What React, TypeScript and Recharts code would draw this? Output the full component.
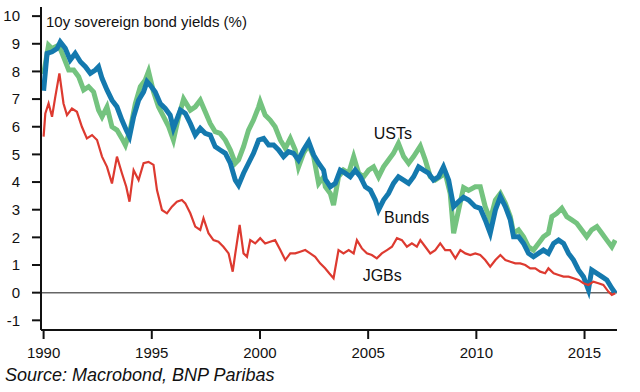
import React from "react";
import { LineChart, Line, XAxis, YAxis, ReferenceLine, ReferenceDot } from "recharts";

// yields, in % (time as decimal year)
const bundYears = [
  1990.0, 1990.16, 1990.39, 1990.62, 1990.77, 1991.0, 1991.23, 1991.46, 1991.7, 1991.93,
  1992.16, 1992.39, 1992.54, 1992.7, 1992.93, 1993.16, 1993.39, 1993.62, 1993.82, 1993.97,
  1994.16, 1994.39, 1994.62, 1994.78, 1994.93, 1995.16, 1995.39, 1995.62, 1995.85, 1996.0,
  1996.32, 1996.55, 1996.78, 1997.01, 1997.24, 1997.47, 1997.7, 1997.93, 1998.16, 1998.4,
  1998.63, 1998.86, 1999.01, 1999.24, 1999.47, 1999.7, 1999.94, 2000.17, 2000.4, 2000.63,
  2000.86, 2001.09, 2001.32, 2001.55, 2001.78, 2002.01, 2002.25, 2002.48, 2002.71, 2002.94,
  2003.02, 2003.25, 2003.48, 2003.71, 2003.94, 2004.17, 2004.4, 2004.64, 2004.87, 2005.1,
  2005.33, 2005.48, 2005.71, 2005.94, 2006.17, 2006.4, 2006.64, 2006.87, 2007.1, 2007.33,
  2007.56, 2007.79, 2008.02, 2008.25, 2008.48, 2008.72, 2008.95, 2009.18, 2009.41, 2009.64,
  2009.95, 2010.18, 2010.41, 2010.64, 2010.88, 2011.11, 2011.34, 2011.57, 2011.72, 2011.95,
  2012.18, 2012.41, 2012.64, 2012.87, 2013.1, 2013.33, 2013.57, 2013.8, 2014.03, 2014.26,
  2014.49, 2014.72, 2014.95, 2015.18, 2015.33, 2015.57, 2015.8, 2016.03, 2016.26, 2016.42,
];
const bundYields = [
  7.3, 8.65, 8.71, 8.83, 9.07, 8.84, 8.41, 8.65, 8.35, 8.17,
  7.93, 8.05, 8.17, 7.75, 7.33, 6.96, 6.72, 6.24, 5.88, 5.64,
  6.36, 6.96, 7.26, 7.63, 7.5, 7.26, 6.84, 6.66, 6.42, 5.94,
  6.6, 6.48, 6.12, 5.7, 5.94, 5.76, 5.7, 5.28, 5.16, 5.04,
  4.68, 4.07, 3.89, 4.32, 4.68, 5.04, 5.52, 5.58, 5.34, 5.34,
  5.16, 4.92, 5.1, 5.04, 4.8, 5.16, 5.46, 4.98, 4.68, 4.43,
  4.1, 3.83, 3.95, 4.43, 4.32, 4.19, 4.43, 4.19, 3.83, 3.71,
  3.35, 2.99, 3.35, 3.59, 3.95, 4.19, 4.07, 3.95, 4.19, 4.55,
  4.43, 4.32, 4.07, 4.19, 4.55, 4.07, 3.11, 3.29, 3.45, 3.35,
  3.11, 3.05, 2.63, 2.15, 2.99, 3.47, 3.11, 2.63, 2.02, 2.02,
  1.78, 1.42, 1.3, 1.42, 1.54, 1.42, 1.78, 1.9, 1.78, 1.42,
  1.18, 0.82, 0.58, 0.1, 0.82, 0.7, 0.58, 0.46, 0.16, -0.02,
];

const ustYears = [
  1990.0, 1990.23, 1990.39, 1990.7, 1990.92, 1991.16, 1991.39, 1991.62, 1991.85, 1992.08,
  1992.31, 1992.54, 1992.7, 1992.93, 1993.16, 1993.39, 1993.62, 1993.78, 1994.0, 1994.24,
  1994.47, 1994.7, 1994.85, 1995.08, 1995.31, 1995.55, 1995.78, 1996.0, 1996.24, 1996.47,
  1996.78, 1997.01, 1997.24, 1997.47, 1997.7, 1997.93, 1998.16, 1998.4, 1998.63, 1998.86,
  1999.01, 1999.24, 1999.47, 1999.7, 1999.94, 2000.01, 2000.24, 2000.47, 2000.7, 2000.94,
  2001.17, 2001.4, 2001.63, 2001.78, 2002.01, 2002.25, 2002.48, 2002.71, 2002.94, 2003.02,
  2003.25, 2003.4, 2003.63, 2003.86, 2004.1, 2004.33, 2004.56, 2004.79, 2005.02, 2005.25,
  2005.48, 2005.71, 2005.94, 2006.17, 2006.4, 2006.64, 2006.87, 2007.1, 2007.41, 2007.64,
  2007.87, 2008.1, 2008.33, 2008.56, 2008.79, 2008.95, 2009.18, 2009.41, 2009.64, 2009.95,
  2010.18, 2010.41, 2010.64, 2010.88, 2011.11, 2011.34, 2011.57, 2011.72, 2011.95, 2012.18,
  2012.41, 2012.64, 2012.87, 2013.1, 2013.33, 2013.49, 2013.72, 2013.95, 2014.18, 2014.41,
  2014.64, 2014.87, 2015.1, 2015.33, 2015.57, 2015.8, 2016.03, 2016.26, 2016.42,
];
const ustYields = [
  7.9, 8.95, 8.83, 8.95, 8.53, 8.05, 8.05, 7.81, 7.33, 7.45,
  7.26, 6.6, 6.36, 6.72, 6.0, 5.88, 5.58, 5.34, 5.88, 6.84,
  7.45, 7.69, 8.0, 7.26, 6.72, 6.36, 6.0, 5.52, 6.36, 7.0,
  6.6, 6.72, 6.96, 6.54, 6.12, 5.82, 5.76, 5.52, 5.16, 4.68,
  4.8, 5.28, 5.88, 6.24, 6.72, 6.9, 6.42, 6.24, 6.0, 5.52,
  5.22, 5.58, 5.16, 4.55, 5.04, 5.34, 4.92, 3.95, 4.19, 3.83,
  3.59, 3.17, 4.19, 4.43, 4.32, 4.92, 4.32, 4.19, 4.43, 4.55,
  4.19, 4.55, 4.8, 5.04, 5.4, 4.92, 4.68, 4.92, 5.3, 4.8,
  4.19, 4.07, 4.19, 4.32, 3.59, 2.15, 2.99, 3.8, 3.7, 3.83,
  3.83, 3.11, 2.63, 3.35, 3.59, 3.23, 2.75, 2.15, 2.27, 2.02,
  1.66, 1.54, 1.78, 2.02, 2.15, 2.75, 2.87, 3.05, 2.75, 2.63,
  2.51, 2.27, 2.02, 2.27, 2.39, 2.15, 1.9, 1.66, 1.9,
];

const jgbYears = [
  1990.0, 1990.08, 1990.23, 1990.39, 1990.54, 1990.73, 1990.92, 1991.08, 1991.31, 1991.54,
  1991.77, 1992.0, 1992.24, 1992.47, 1992.7, 1992.93, 1993.16, 1993.39, 1993.62, 1993.82,
  1993.97, 1994.16, 1994.39, 1994.62, 1994.85, 1995.08, 1995.24, 1995.47, 1995.7, 1995.93,
  1996.16, 1996.39, 1996.55, 1996.78, 1997.01, 1997.24, 1997.39, 1997.62, 1997.85, 1998.08,
  1998.31, 1998.55, 1998.74, 1998.86, 1999.06, 1999.24, 1999.4, 1999.55, 1999.78, 2000.01,
  2000.24, 2000.47, 2000.7, 2000.94, 2001.17, 2001.4, 2001.63, 2001.86, 2002.09, 2002.32,
  2002.55, 2002.78, 2003.01, 2003.2, 2003.4, 2003.63, 2003.86, 2004.1, 2004.33, 2004.48,
  2004.71, 2004.94, 2005.17, 2005.4, 2005.63, 2005.87, 2006.1, 2006.33, 2006.56, 2006.79,
  2007.02, 2007.25, 2007.41, 2007.64, 2007.87, 2008.1, 2008.33, 2008.56, 2008.79, 2009.03,
  2009.26, 2009.49, 2009.72, 2009.95, 2010.18, 2010.41, 2010.64, 2010.88, 2011.11, 2011.34,
  2011.57, 2011.8, 2012.03, 2012.26, 2012.49, 2012.72, 2012.95, 2013.18, 2013.33, 2013.57,
  2013.8, 2014.03, 2014.26, 2014.49, 2014.72, 2014.95, 2015.18, 2015.41, 2015.64, 2015.87,
  2016.1, 2016.26, 2016.42,
];
const jgbYields = [
  5.64, 6.48, 6.84, 6.36, 7.08, 7.93, 6.84, 6.42, 6.66, 6.54,
  6.0, 5.58, 5.7, 5.52, 4.92, 4.55, 3.95, 4.92, 4.32, 3.83,
  3.29, 4.43, 4.07, 4.68, 4.73, 4.62, 3.71, 2.99, 2.87, 3.11,
  3.29, 3.35, 3.23, 2.87, 2.39, 2.27, 2.69, 2.15, 1.9, 1.84,
  1.66, 1.42, 0.76, 1.42, 2.45, 1.42, 1.3, 1.9, 1.78, 1.97,
  1.78, 1.84, 1.9, 1.54, 1.18, 1.42, 1.42, 1.48, 1.54, 1.42,
  1.3, 1.06, 0.88, 0.7, 0.52, 1.54, 1.42, 1.54, 1.42, 1.9,
  1.6, 1.42, 1.36, 1.24, 1.42, 1.54, 1.66, 1.97, 1.9, 1.66,
  1.78, 1.66, 1.9, 1.66, 1.42, 1.54, 1.78, 1.54, 1.54, 1.24,
  1.54, 1.42, 1.36, 1.42, 1.36, 1.18, 0.94, 1.18, 1.36, 1.18,
  1.12, 1.06, 1.06, 1.0, 0.88, 0.88, 0.76, 0.7, 0.88, 0.7,
  0.64, 0.58, 0.58, 0.52, 0.46, 0.34, 0.28, 0.4, 0.34, 0.28,
  0.04, -0.08, -0.02,
];

const yearTicks = [1990, 1995, 2000, 2005, 2010, 2015];
const yieldTicks = [-1, 0, 1, 2, 3, 4, 5, 6, 7, 8, 9, 10];

const toPoints = (ts: number[], vs: number[]) => ts.map((t, i) => ({ t, v: vs[i] }));

const bunds = toPoints(bundYears, bundYields);
const usts = toPoints(ustYears, ustYields);
const jgbs = toPoints(jgbYears, jgbYields);

const font = '"Liberation Sans", Arial, sans-serif';
const tickStyle = { fill: "#111", fontSize: 15, fontFamily: font };
const seriesLabel = { position: "center" as const, fontSize: 16, fill: "#111", fontFamily: font };

export default function App() {
  return (
    <div
      style={{
        position: "absolute",
        left: 0,
        top: 0,
        width: 640,
        height: 392,
        background: "#fff",
        fontFamily: font,
      }}
    >
      <LineChart
        width={640}
        height={392}
        margin={{ top: 7, right: 23, left: 0, bottom: 32 }}
      >
        <XAxis
          type="number"
          dataKey="t"
          domain={[1989.88, 2016.5]}
          allowDataOverflow
          ticks={yearTicks}
          height={30}
          axisLine={{ stroke: "#111", strokeWidth: 2 }}
          tickLine={{ stroke: "#111", strokeWidth: 2 }}
          tickSize={9}
          tickMargin={8}
          tick={tickStyle}
        />
        <YAxis
          type="number"
          domain={[-1.35, 10.33]}
          allowDataOverflow
          ticks={yieldTicks}
          width={41}
          axisLine={{ stroke: "#111", strokeWidth: 2 }}
          tickLine={{ stroke: "#111", strokeWidth: 2 }}
          tickSize={9}
          tickMargin={12}
          tick={tickStyle}
        />
        <ReferenceLine y={0} stroke="#666" strokeWidth={1.5} />
        <Line
          data={usts}
          dataKey="v"
          type="linear"
          stroke="#74c37f"
          strokeWidth={5}
          dot={false}
          isAnimationActive={false}
        />
        <Line
          data={bunds}
          dataKey="v"
          type="linear"
          stroke="#1479ae"
          strokeWidth={5}
          dot={false}
          isAnimationActive={false}
        />
        <Line
          data={jgbs}
          dataKey="v"
          type="linear"
          stroke="#dd3a30"
          strokeWidth={2.2}
          dot={false}
          isAnimationActive={false}
        />
        <ReferenceDot x={2006.14} y={5.77} r={0} stroke="none" label={{ value: "USTs", ...seriesLabel }} />
        <ReferenceDot x={2006.78} y={2.74} r={0} stroke="none" label={{ value: "Bunds", ...seriesLabel }} />
        <ReferenceDot x={2005.65} y={0.64} r={0} stroke="none" label={{ value: "JGBs", ...seriesLabel }} />
      </LineChart>
      <div
        style={{
          position: "absolute",
          left: 46,
          top: 14,
          fontSize: 15,
          lineHeight: "15px",
          color: "#111",
          whiteSpace: "nowrap",
        }}
      >
        10y sovereign bond yields (%)
      </div>
      <div
        style={{
          position: "absolute",
          left: 5,
          top: 366,
          fontSize: 18,
          lineHeight: "18px",
          fontStyle: "italic",
          color: "#111",
          whiteSpace: "nowrap",
        }}
      >
        Source: Macrobond, BNP Paribas
      </div>
    </div>
  );
}
